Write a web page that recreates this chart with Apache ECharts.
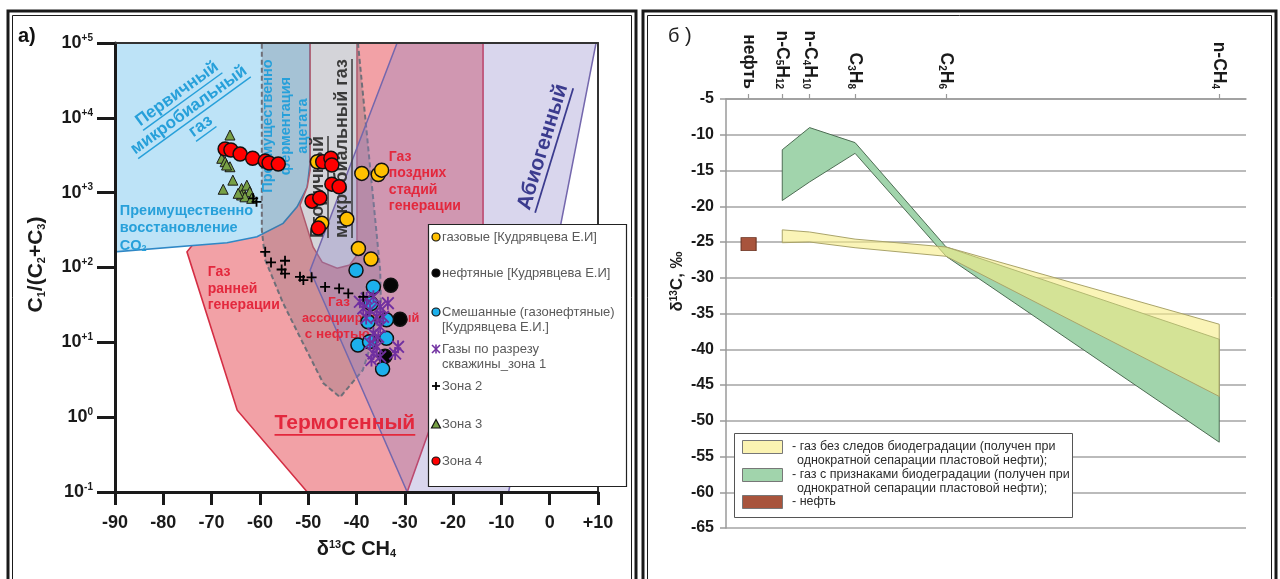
<!DOCTYPE html>
<html>
<head>
<meta charset="utf-8">
<script src="https://cdn.jsdelivr.net/npm/echarts@6/dist/echarts.min.js"></script>
<style>
html,body{margin:0;padding:0;background:#fff;}
#chart{width:1280px;height:579px;}
</style>
</head>
<body>
<div id="chart"></div>
<script>
// ---------- Panel а: δ13C CH4 vs C1/(C2+C3) ----------
// Genetic fields, vertices as [δ13C CH4, C1/(C2+C3)]
const fieldThermogenic = [[-39.9,1e5],[-13.8,1e5],[-13.8,70],[-29.5,0.1],[-50.2,0.1],[-64.7,1.24],[-75.1,162]];
const fieldPrimaryMicrobial = [[-90,1e5],[-49.6,1e5],[-49.6,2570],[-50.2,1190],[-52.3,646],[-55.2,389],[-60.6,257],[-66.8,214],[-90,162]];
const fieldSecondaryMicrobial = [[-49.6,1e5],[-39.9,1e5],[-39.9,147],[-41.4,108],[-44.0,98],[-47.1,118],[-49.0,188],[-51.7,682],[-50.2,1190],[-49.6,2000]];
const fieldOilAssociated = [[-59.6,1e5],[-39.7,1e5],[-35.1,92],[-34.9,24.5],[-38.7,4.25],[-43.4,1.85],[-46.9,2.85],[-51.1,9.8],[-55.2,33.4],[-58.9,126],[-59.6,316]];
const fieldAbiotic = [[-31.6,1e5],[9.6,1e5],[-8.5,0.1],[-29.5,0.1],[-49.6,92]];

// Samples
const gasKudr = [[-48.1,2590],[-47.2,390],[-38.9,1810],[-35.5,1750],[-34.8,2000],[-42.0,444],[-39.6,180],[-37.0,130]];
const oilKudr = [[-32.9,58],[-31.0,20.4],[-34.1,6.5]];
const mixedKudr = [[-40.1,92],[-36.5,55],[-37.0,33],[-37.6,18.8],[-33.8,20],[-39.7,9.2],[-37.3,10.2],[-33.8,11.3],[-34.6,4.4]];
const zone1 = [[-39.3,34.8],[-37.9,38.6],[-36.5,40.6],[-35.1,29.8],[-37.2,26.9],[-38.6,28.4],[-35.8,21.9],[-34.5,21.9],[-38.0,21.1],[-33.5,33.4],[-35.1,16.1],[-36.5,13.1],[-35.5,11.9],[-37.2,9.7],[-35.8,8.7],[-36.5,7.1],[-35.1,6.4],[-36.9,5.8],[-31.4,8.7],[-32.0,7.1]];
const zone2 = [[-58.9,162],[-57.7,117],[-54.8,123],[-55.5,94],[-54.8,83],[-51.7,75],[-51.0,68],[-49.3,74],[-46.5,55],[-43.6,52.6],[-41.7,45],[-38.6,40.6],[-60.7,755],[-61.4,839]];
const zone3 = [[-66.2,5890],[-67.9,2880],[-67.2,2590],[-66.2,2220],[-66.9,2340],[-65.6,1470],[-67.6,1110],[-63.8,1140],[-62.7,1260],[-63.8,930],[-62.1,1030],[-63.1,880],[-61.7,840],[-64.5,980]];
const zone4 = [[-67.2,3830],[-66.0,3720],[-64.1,3280],[-61.5,2880],[-58.9,2640],[-58.1,2490],[-56.2,2410],[-47.0,2590],[-45.3,2880],[-45.1,2340],[-45.1,1300],[-43.6,1200],[-49.2,770],[-47.6,850],[-47.9,336]];

const logTicks = [0.1, 1, 10, 100, 1000, 10000, 100000];

// Field captions, anchored in data space
const fieldNotes = [
  {lines:['Первичный','микробиальный','газ'], at:[-74.7,12700], rot:36, kind:'blueBig', align:'center', ul:true},
  {lines:['Преимущественно','ферментация','ацетата'], at:[-54.6,7760], rot:90, kind:'blue', align:'center'},
  {lines:['Преимущественно','восстановление','CO{s|2}'], at:[-89.0,336], rot:0, kind:'blue', align:'left'},
  {lines:['Вторичный','микробиальный газ'], at:[-45.5,247], rot:90, kind:'grey', align:'left', ul:true},
  {lines:['Газ','поздних','стадий','генерации'], at:[-33.3,1406], rot:0, kind:'red', align:'left'},
  {lines:['Газ','ранней','генерации'], at:[-70.8,51.4], rot:0, kind:'red', align:'left'},
  {lines:['Газ'], at:[-45.9,34.4], rot:0, kind:'redSmall', align:'left'},
  {lines:['ассоциированный'], at:[-51.3,21.1], rot:0, kind:'redTiny', align:'left'},
  {lines:['с нефтью'], at:[-50.7,12.9], rot:0, kind:'redSmall', align:'left'},
  {lines:['Термогенный'], at:[-42.4,0.83], rot:0, kind:'redBig', align:'center', ul:true},
  {lines:['Абиогенный'], at:[-1.4,4074], rot:73, kind:'violetBig', align:'center', ul:true}
];

// ---------- Panel б: δ13C of gas components ----------
const componentInvN = [0.2, 0.25, 1/3, 0.5, 1.0];           // n-C5, n-C4, C3, C2, CH4 (1/n)
const freshUpper = [-23.3, -23.6, -24.6, -25.7, -36.5];
const freshLower = [-25.1, -25.0, -25.8, -27.0, -46.6];
const biodegUpper = [-12.1, -9.0, -11.1, -25.7, -38.6];
const biodegLower = [-19.2, -16.6, -12.6, -27.0, -53.0];
const oilPoint = [0.1384, -25.3];
const topTickValues = [0.1384, 0.2, 0.25, 1/3, 0.5, 1.0];
const topTickLabels = ['нефть', 'n-C{s|5}H{s|12}', 'n-C{s|4}H{s|10}', 'C{s|3}H{s|8}', 'C{s|2}H{s|6}', 'n-CH{s|4}'];

// ---------- rendering ----------
const FONT = "'Liberation Sans', Arial, Helvetica, sans-serif";
const NARROW = "'Liberation Sans Narrow', 'Liberation Sans', Arial, sans-serif";
const chart = echarts.init(document.getElementById('chart'), null, {renderer:'canvas'});

const mctx = document.createElement('canvas').getContext('2d');
function measure(t, size, weight) {
  mctx.font = weight + ' ' + size + 'px ' + FONT;
  return mctx.measureText(t.replace(/\{s\|([^}]*)\}/g, '$1')).width;
}

const noteKinds = {
  blueBig:  {size:17, color:'#27a0da', lh:20},
  blue:     {size:14.5, color:'#27a0da', lh:17.5},
  grey:     {size:18, color:'#3a3a3a', lh:24},
  red:      {size:14, color:'#e3283d', lh:16.5},
  redSmall: {size:13.5, color:'#e3283d', lh:16.5},
  redTiny:  {size:12.8, color:'#e3283d', lh:16.5},
  redBig:   {size:21, color:'#e3283d', lh:24},
  violetBig:{size:21, color:'#3b3b8e', lh:24}
};

const fieldShapes = [fieldThermogenic, fieldPrimaryMicrobial, fieldSecondaryMicrobial, fieldOilAssociated, fieldAbiotic];
const fieldStyles = [
  {fill:'#f2a1a6', stroke:'#d42e44', lineWidth:1.6},
  {fill:'#bde3f7', stroke:'#2f88c6', lineWidth:1.6},
  {fill:'#fbfbfc', stroke:'#c9596d', lineWidth:1.5},
  {fill:'rgba(95,95,110,0.25)', stroke:'#6f6f78', lineWidth:2, lineDash:[5,3]},
  {fill:'rgba(140,130,200,0.33)', stroke:'#7467ad', lineWidth:1.5}
];

function renderField(params, api) {
  const pts = fieldShapes[params.dataIndex].map(p => api.coord(p));
  return {type:'polygon', shape:{points:pts}, style:fieldStyles[params.dataIndex]};
}

function renderNote(params, api) {
  const n = fieldNotes[params.dataIndex];
  const k = noteKinds[n.kind];
  const p = api.coord(n.at);
  const children = [];
  const count = n.lines.length;
  n.lines.forEach((t, i) => {
    const y = (i - (count - 1) / 2) * k.lh;
    children.push({type:'text', x:0, y:y, style:{
      text:t, fill:k.color, fontSize:k.size, fontWeight:'bold', fontFamily:FONT,
      align:n.align, verticalAlign:'middle',
      rich:{s:{fontSize:k.size*0.62, fontWeight:'bold', fontFamily:FONT, fill:k.color, verticalAlign:'bottom'}}
    }});
    if (n.ul) {
      const w = measure(t, k.size, 'bold');
      const x1 = n.align === 'center' ? -w / 2 : 0;
      const uy = y + k.size * 0.56;
      children.push({type:'line', shape:{x1:x1, y1:uy, x2:x1 + w, y2:uy}, style:{stroke:k.color, lineWidth:Math.max(1.2, k.size/12)}});
    }
  });
  return {type:'group', x:p[0], y:p[1], rotation:(n.rot || 0) * Math.PI / 180, children:children};
}

const bandDefs = [
  {upper:biodegUpper, lower:biodegLower, style:{fill:'#a1d4ac', stroke:'#4e6d54', lineWidth:1}},
  {upper:freshUpper, lower:freshLower, style:{fill:'rgba(246,236,135,0.6)', stroke:'#aaa46a', lineWidth:1}}
];
function renderBand(params, api) {
  const b = bandDefs[params.dataIndex];
  const up = componentInvN.map((x, i) => api.coord([x, b.upper[i]]));
  const lo = componentInvN.map((x, i) => api.coord([x, b.lower[i]])).reverse();
  return {type:'polygon', shape:{points:up.concat(lo)}, style:b.style};
}

const starPath = 'path://M4.3,0H5.7V10H4.3Z M0,1L1,0L10,9L9,10Z M9,0L10,1L1,10L0,9Z';
const plusPath = 'path://M4.1,0H5.9V10H4.1Z M0,4.1H10V5.9H0Z';

const supRich = {
  sup:{fontSize:11, fontWeight:'bold', fontFamily:FONT, color:'#1a1a1a', verticalAlign:'top'},
  sub:{fontSize:11, fontWeight:'bold', fontFamily:FONT, color:'#1a1a1a', verticalAlign:'bottom'}
};

function logLabel(v) {
  const e = Math.round(Math.log10(v));
  return '{b|10}{s|' + (e > 0 ? '+' + e : String(e)) + '}';
}
function topLabel(v) {
  let best = 0;
  topTickValues.forEach((t, i) => { if (Math.abs(t - v) < Math.abs(topTickValues[best] - v)) best = i; });
  return topTickLabels[best];
}

const dot = (color, size) => ({symbol:'circle', symbolSize:size, itemStyle:{color:color, borderColor:'#111', borderWidth:1.5, opacity:1}});

const option = {
  animation:false,
  backgroundColor:'#ffffff',
  textStyle:{fontFamily:FONT},
  grid:[
    {left:115, top:43, width:483, height:449, containLabel:false, outerBoundsMode:'none'},
    {left:726, top:99, width:520, height:429, containLabel:false, outerBoundsMode:'none'}
  ],
  xAxis:[
    {gridIndex:0, type:'value', min:-90, max:10, interval:10, position:'bottom', z:10,
     axisLine:{show:true, onZero:false, lineStyle:{color:'#1a1a1a', width:3}},
     axisTick:{show:true, length:13, lineStyle:{color:'#1a1a1a', width:3}},
     axisLabel:{margin:22, fontSize:18, fontWeight:'bold', color:'#1a1a1a', fontFamily:FONT,
                formatter:v => (v > 0 ? '+' + v : String(v))},
     splitLine:{show:false},
     name:'δ{sup|13}C CH{sub|4}', nameLocation:'middle', nameGap:47,
     nameTextStyle:{fontSize:20, fontWeight:'bold', color:'#1a1a1a', fontFamily:FONT, rich:supRich}},
    {gridIndex:0, type:'value', min:-90, max:10, position:'top', z:10,
     axisLine:{show:true, onZero:false, lineStyle:{color:'#333', width:2}}, axisTick:{show:false}, axisLabel:{show:false}, splitLine:{show:false}},
    {gridIndex:1, type:'value', min:0.097, max:1.049, position:'top',
     axisLine:{show:true, onZero:false, lineStyle:{color:'#9a9a9a', width:1.5}},
     axisTick:{show:true, customValues:topTickValues, length:5, lineStyle:{color:'#9a9a9a', width:1.2}},
     axisLabel:{show:true, customValues:topTickValues, rotate:90, margin:10, fontSize:17.5, fontWeight:'bold', color:'#1a1a1a', fontFamily:FONT,
                formatter:topLabel,
                rich:{s:{fontSize:10, fontWeight:'bold', color:'#1a1a1a', fontFamily:FONT, verticalAlign:'bottom'}}},
     splitLine:{show:false}}
  ],
  yAxis:[
    {gridIndex:0, type:'log', logBase:10, min:0.1, max:100000, position:'left', z:10,
     axisLine:{show:true, onZero:false, lineStyle:{color:'#1a1a1a', width:3}},
     axisTick:{show:true, customValues:logTicks, length:18, lineStyle:{color:'#1a1a1a', width:3}},
     axisLabel:{show:true, customValues:logTicks, margin:22, formatter:logLabel,
                rich:{b:{fontSize:18, fontWeight:'bold', color:'#1a1a1a', fontFamily:FONT, lineHeight:20},
                      s:{fontSize:10, fontWeight:'bold', color:'#1a1a1a', fontFamily:FONT, verticalAlign:'top'}}},
     splitLine:{show:false}, minorTick:{show:false},
     name:'C{sub|1}/(C{sub|2}+C{sub|3})', nameLocation:'middle', nameGap:68, nameRotate:90,
     nameTextStyle:{fontSize:21, fontWeight:'bold', color:'#1a1a1a', fontFamily:FONT, padding:[0,0,0,6], rich:supRich}},
    {gridIndex:0, type:'log', logBase:10, min:0.1, max:100000, position:'right', z:10,
     axisLine:{show:true, onZero:false, lineStyle:{color:'#333', width:2}}, axisTick:{show:false}, axisLabel:{show:false}, splitLine:{show:false}},
    {gridIndex:1, type:'value', min:-65, max:-5, interval:5, position:'left',
     axisLine:{show:true, onZero:false, lineStyle:{color:'#9a9a9a', width:1.5}},
     axisTick:{show:true, length:6, lineStyle:{color:'#9a9a9a', width:1.5}},
     axisLabel:{margin:12, fontSize:16, fontWeight:'bold', color:'#1a1a1a', fontFamily:FONT},
     splitLine:{show:true, lineStyle:{color:'#a5a5a5', width:1.5}},
     name:'δ{sup|13}C, ‰', nameLocation:'middle', nameGap:40, nameRotate:90,
     nameTextStyle:{fontSize:17, fontWeight:'bold', color:'#1a1a1a', fontFamily:FONT, padding:[0,0,0,64],
                    rich:{sup:{fontSize:10, fontWeight:'bold', color:'#1a1a1a', fontFamily:FONT, verticalAlign:'top'}}}}
  ],
  series:[
    {type:'custom', name:'fields', xAxisIndex:0, yAxisIndex:0, z:1, silent:true,
     renderItem:renderField, data:fieldShapes.map(s => s[0])},
    {type:'custom', name:'notes', xAxisIndex:0, yAxisIndex:0, z:2, silent:true,
     renderItem:renderNote, data:fieldNotes.map(n => n.at)},
    Object.assign({type:'scatter', name:'газовые', xAxisIndex:0, yAxisIndex:0, z:3, data:gasKudr}, dot('#ffc000', 14)),
    Object.assign({type:'scatter', name:'нефтяные', xAxisIndex:0, yAxisIndex:0, z:4, data:oilKudr}, dot('#050505', 14)),
    Object.assign({type:'scatter', name:'смешанные', xAxisIndex:0, yAxisIndex:0, z:5, data:mixedKudr}, dot('#1cb0ec', 14)),
    {type:'scatter', name:'зона 1', xAxisIndex:0, yAxisIndex:0, z:6, data:zone1,
     symbol:starPath, symbolSize:13, itemStyle:{color:'#7030a0', opacity:1}},
    {type:'scatter', name:'Зона 2', xAxisIndex:0, yAxisIndex:0, z:8, data:zone2,
     symbol:plusPath, symbolSize:10, itemStyle:{color:'#000', opacity:1}},
    {type:'scatter', name:'Зона 3', xAxisIndex:0, yAxisIndex:0, z:7, data:zone3,
     symbol:'triangle', symbolSize:[10,10], itemStyle:{color:'#77a045', borderColor:'#1a1a1a', borderWidth:1, opacity:1}},
    Object.assign({type:'scatter', name:'Зона 4', xAxisIndex:0, yAxisIndex:0, z:9, data:zone4}, dot('#ff0000', 14)),
    {type:'custom', name:'bands', xAxisIndex:2, yAxisIndex:2, z:3, silent:true,
     renderItem:renderBand, data:[[componentInvN[0], biodegUpper[0]], [componentInvN[0], freshUpper[0]]]},
    {type:'scatter', name:'нефть', xAxisIndex:2, yAxisIndex:2, z:4, data:[oilPoint],
     symbol:'rect', symbolSize:[15,13], itemStyle:{color:'#a8543c', borderColor:'#6b3322', borderWidth:1, opacity:1}}
  ],
  graphic:[]
};

// ----- legends, frames, panel letters -----
const g = [];
// panel frames (double line)
g.push({type:'rect', shape:{x:8, y:11, width:628, height:600}, style:{fill:'none', stroke:'#1a1a1a', lineWidth:3}, z:100});
g.push({type:'rect', shape:{x:12.5, y:15.5, width:619, height:600}, style:{fill:'none', stroke:'#1a1a1a', lineWidth:1}, z:100});
g.push({type:'rect', shape:{x:643, y:11, width:633, height:600}, style:{fill:'none', stroke:'#1a1a1a', lineWidth:3}, z:100});
g.push({type:'rect', shape:{x:647.5, y:15.5, width:624, height:600}, style:{fill:'none', stroke:'#1a1a1a', lineWidth:1}, z:100});
g.push({type:'text', x:18, y:36, style:{text:'а)', fontSize:20, fontWeight:'bold', fontFamily:FONT, fill:'#111', verticalAlign:'middle'}, z:100});
g.push({type:'text', x:668, y:36, style:{text:'б )', fontSize:20, fontFamily:FONT, fill:'#222', verticalAlign:'middle'}, z:100});

// legend, panel а
const legendAEntries = [
  {mark:'circle', color:'#ffc000', text:['газовые [Кудрявцева Е.И]']},
  {mark:'circle', color:'#050505', text:['нефтяные [Кудрявцева Е.И]']},
  {mark:'circle', color:'#1cb0ec', text:['Смешанные (газонефтяные)','[Кудрявцева Е.И.]']},
  {mark:'star', color:'#7030a0', text:['Газы по разрезу','скважины_зона 1']},
  {mark:'plus', color:'#000', text:['Зона 2']},
  {mark:'tri', color:'#77a045', text:['Зона 3']},
  {mark:'circle', color:'#ff0000', text:['Зона 4']}
];
const legendARows = [237, 273, 312, 349, 386, 424, 461];
g.push({type:'rect', shape:{x:428.5, y:224.5, width:198, height:262}, style:{fill:'#fff', stroke:'#222', lineWidth:1.2}, z:50});
legendAEntries.forEach((e, i) => {
  const y = legendARows[i], x = 436;
  if (e.mark === 'circle') g.push({type:'circle', shape:{cx:x, cy:y, r:4}, style:{fill:e.color, stroke:'#111', lineWidth:1.2}, z:51});
  if (e.mark === 'star') {
    [[x, y-4.5, x, y+4.5], [x-4, y-4, x+4, y+4], [x+4, y-4, x-4, y+4]].forEach(s =>
      g.push({type:'line', shape:{x1:s[0], y1:s[1], x2:s[2], y2:s[3]}, style:{stroke:e.color, lineWidth:1.6}, z:51}));
  }
  if (e.mark === 'plus') {
    [[x, y-4, x, y+4], [x-4, y, x+4, y]].forEach(s =>
      g.push({type:'line', shape:{x1:s[0], y1:s[1], x2:s[2], y2:s[3]}, style:{stroke:e.color, lineWidth:1.8}, z:51}));
  }
  if (e.mark === 'tri') g.push({type:'polygon', shape:{points:[[x, y-4.5],[x+4.5, y+4],[x-4.5, y+4]]}, style:{fill:e.color, stroke:'#111', lineWidth:1.2}, z:51});
  e.text.forEach((t, j) => g.push({type:'text', x:442, y:y + j * 15.5,
    style:{text:t, fontSize:13, fontFamily:FONT, fill:'#5a5a5a', verticalAlign:'middle'}, z:51}));
});

// legend, panel б
g.push({type:'rect', shape:{x:734.5, y:433.5, width:338, height:84}, style:{fill:'#fff', stroke:'#555', lineWidth:1}, z:50});
const legendBEntries = [
  {fill:'#fbf3b2', lines:['- газ без следов биодеградации (получен при', 'однократной сепарации пластовой нефти);']},
  {fill:'#a1d4ac', lines:['- газ с признаками биодеградации (получен при', 'однократной сепарации пластовой нефти);']},
  {fill:'#a8543c', lines:['- нефть']}
];
const legendBRows = [447, 475, 502];
legendBEntries.forEach((e, i) => {
  const y = legendBRows[i];
  g.push({type:'rect', shape:{x:742.5, y:y-6.5, width:40, height:13}, style:{fill:e.fill, stroke:'#777', lineWidth:1}, z:51});
  e.lines.forEach((t, j) => g.push({type:'text', x:j ? 797 : 792, y:y + j * 14,
    style:{text:t, fontSize:12.5, fontFamily:NARROW, fill:'#2a2a2a', verticalAlign:'middle'}, z:51}));
});
option.graphic = g;

chart.setOption(option);
</script>
</body>
</html>
